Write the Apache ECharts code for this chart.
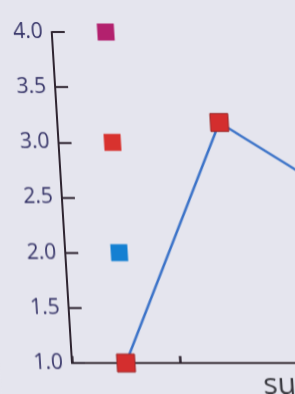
<!DOCTYPE html>
<html>
<head>
<meta charset="utf-8">
<script src="https://cdn.jsdelivr.net/npm/echarts@6/dist/echarts.min.js"></script>
<style>
html,body{margin:0;padding:0;background:#e5e5ee;overflow:hidden;width:295px;height:394px;}
#c{width:400px;height:394px;transform:skewX(3.5deg);transform-origin:0 363px;}
</style>
</head>
<body>
<div id="c"></div>
<script>
const categories = ['', '', 'su'];
const lineValues = [1.0, 3.18, 2.55];
const dotValues = [4.0, 3.0, 2.0];
const dotColors = ['#b3216e', '#d8322e', '#1480d2'];
const yTicks = [1.0, 1.5, 2.0, 2.5, 3.0, 3.5, 4.0];

const chart = echarts.init(document.getElementById('c'), null, {renderer: 'canvas'});
chart.setOption({
  backgroundColor: '#e5e5ee',
  animation: false,
  grid: {left: 72, top: 32, right: 4, bottom: 31, containLabel: false},
  xAxis: {
    type: 'category',
    data: categories,
    boundaryGap: true,
    axisLine: {lineStyle: {color: '#3a3038', width: 2}},
    axisTick: {show: true, inside: true, interval: (i) => i <= 1, length: 7, lineStyle: {color: '#2e2430', width: 2.5}},
    axisLabel: {show: false},
    splitLine: {show: false}
  },
  yAxis: {
    type: 'value',
    min: yTicks[0],
    max: yTicks[yTicks.length - 1],
    interval: 0.5,
    axisLine: {show: true, lineStyle: {color: '#2e2430', width: 2}},
    axisTick: {show: true, inside: true, length: 13, lineStyle: {color: '#2e2430', width: 2}},
    axisLabel: {
      margin: 9,
      color: '#363468',
      fontSize: 21,
      fontFamily: 'Open Sans',
      fontWeight: 'normal',
      formatter: v => v.toFixed(1)
    },
    splitLine: {show: false}
  },
  graphic: [{
    type: 'text', left: 262, top: 370,
    style: {text: 'su', fontSize: 30, fontFamily: 'Open Sans', fill: '#3a3a40'}
  }],
  series: [
    {
      type: 'line',
      data: lineValues,
      symbol: 'rect',
      symbolSize: 18,
      lineStyle: {color: '#3a72c8', width: 2.5},
      itemStyle: {color: '#d42e2e', borderColor: '#9a2a2a', borderWidth: 1, opacity: 1},
      z: 3
    },
    {
      type: 'scatter',
      data: dotValues.map((v, i) => ({value: [0, v], itemStyle: {color: dotColors[i], opacity: 1}})),
      symbol: 'rect',
      symbolSize: 17,
      z: 4
    }
  ]
});
</script>
</body>
</html>
